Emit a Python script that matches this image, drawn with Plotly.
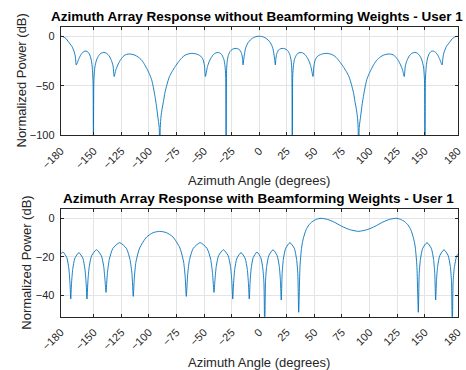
import plotly.graph_objects as go

# ---- Array response without beamforming weights (azimuth deg, normalized dB) ----
az_nobf = [
    -180, -178, -176.4, -175, -173.4, -171.5, -169.6, -168, -167, -166.5, -165.9, -165, -163.8, -162, -160, -158,
    -156, -154, -152.5, -151.5, -150.7, -150.3, -149.9, -149, -147.5, -145.5, -143.5, -141, -138.5, -136, -134,
    -132.5, -131.5, -130, -128.2, -126, -123.6, -121.5, -119, -116, -112.9, -109.8, -106.7, -104.5, -102.1, -99.8,
    -97.5, -96, -94.5, -93.2, -92, -90.7, -90.2, -89.7, -89, -88, -86.8, -85.5, -83.7, -81.5, -79, -76, -73, -70,
    -67, -64, -61, -58, -55, -53, -51.5, -50.5, -49.6, -48.8, -46.9, -45.5, -43.9, -41.5, -39.3, -37, -35, -33.5,
    -32, -31, -30.4, -30, -29.6, -29, -28, -26.5, -24.5, -22, -19.5, -17.5, -16, -15.2, -14.6, -14.2, -13.5, -12.5,
    -11.5, -10, -8, -6, -4, -2, 0,
    2, 4, 6, 8, 10, 11.5, 12.5, 13.5, 14.2, 14.6, 15.2, 16, 17.5, 19.5, 22, 24.5, 26.5, 28, 29, 29.6, 30, 30.4,
    31, 32, 33.5, 35, 37, 39.3, 41.5, 43.9, 45.5, 46.9, 48.8, 49.6, 50.5, 51.5, 53, 55, 58, 61, 64, 67, 70, 73,
    76, 79, 81.5, 83.7, 85.5, 86.8, 88, 89, 89.7, 90.2, 90.7, 92, 93.2, 94.5, 96, 97.5, 99.8, 102.1, 104.5, 106.7,
    109.8, 112.9, 116, 119, 121.5, 123.6, 126, 128.2, 130, 131.5, 132.5, 134, 136, 138.5, 141, 143.5, 145.5,
    147.5, 149, 149.9, 150.3, 150.7, 151.5, 152.5, 154, 156, 158, 160, 162, 163.8, 165, 165.9, 166.5, 167, 168,
    169.6, 171.5, 173.4, 175, 176.4, 178, 180,
]
pow_nobf = [
    0, -0.4, -1.4, -2.6, -5, -7.8, -10.7, -15, -19, -23, -29, -27, -23.5, -19.3, -16.3, -15,
    -15.3, -18, -23, -30, -45, -130, -45, -31, -24, -19.5, -17.2, -16.3, -17.2, -20, -24.5,
    -30, -40.7, -34, -29, -24.3, -20.7, -18.8, -18, -18.1, -19, -21, -24, -27.5, -32.3, -37.5,
    -44, -51.5, -60.7, -70, -80.7, -92, -130, -92, -80.7, -73, -65.7, -57, -49, -41, -35.7, -30.3, -25.7, -21.6,
    -19, -17.8, -17.3, -17.7, -18.8, -20.2, -22.3, -25, -30, -40.7, -30.7, -26, -22.3, -18.5, -16.8, -16.5, -17.3, -19.5,
    -23.5, -30, -40, -130, -35, -25, -19.5, -15.5, -13.3, -12.3, -12.6, -14, -17.5, -22, -29, -25, -19, -12.7,
    -9.6, -6.4, -3.7, -2.0, -0.85, -0.2, 0,
    -0.2, -0.85, -2.0, -3.7, -6.4, -9.6, -12.7, -19, -25, -29, -22, -17.5, -14, -12.6, -12.3, -13.3, -15.5, -19.5, -25, -35, -130, -40,
    -30, -23.5, -19.5, -17.3, -16.5, -16.8, -18.5, -22.3, -26, -30.7, -40.7, -30, -25, -22.3, -20.2, -18.8, -17.7, -17.3, -17.8, -19, -21.6, -25.7,
    -30.3, -35.7, -41, -49, -57, -65.7, -73, -80.7, -92, -130, -92, -80.7, -70, -60.7, -51.5, -44, -37.5, -32.3, -27.5, -24,
    -21, -19, -18.1, -18, -18.8, -20.7, -24.3, -29, -34, -40.7, -30, -24.5, -20, -17.2, -16.3, -17.2, -19.5,
    -24, -31, -45, -130, -45, -30, -23, -18, -15.3, -15, -16.3, -19.3, -23.5, -27, -29, -23, -19, -15,
    -10.7, -7.8, -5, -2.6, -1.4, -0.4, 0,
]

# ---- Array response with beamforming weights (azimuth deg, normalized dB) ----
az_bf = [
    -180, -177.9, -174.4, -172.6, -171.6, -170.9,
    -170.2, -169.1, -167.2, -163.55, -159.9, -158.0, -156.9, -156.2,
    -155.3, -154.1, -151.9, -147.55, -143.2, -141.0, -139.8, -138.9,
    -137.7, -135.9, -132.7, -126.55, -120.4, -117.2, -115.4, -114.2,
    -113.2, -111.8, -108.4, -102.2, -96.2, -90.15, -84.1, -78.1, -71.9, -68.5, -67.1, -66.1,
    -64.8, -63.1, -59.8, -53.55, -47.3, -44.0, -42.3, -41,
    -40.15, -38.96, -36.75, -32.5, -28.25, -26.04, -24.85, -24,
    -23.25, -22.2, -20.25, -16.5, -12.75, -10.8, -9.75, -9,
    -8.3, -7.3, -5.5, -2.0, 1.5, 3.3, 4.3, 5.0,
    5.75, 6.8, 8.75, 12.5, 16.25, 18.2, 19.25, 20,
    20.8, 21.9, 23.95, 27.9, 31.85, 33.9, 35.0, 35.8,
    37, 38.5, 40, 42.5, 45, 48, 52, 56, 62, 68, 75, 82, 90, 98, 105, 112, 118, 124, 128, 132, 135, 137.5,
    140, 141.5, 143, 144.3,
    145.1, 146.2, 148.2, 152.15, 156.1, 158.1, 159.2, 160,
    160.75, 161.8, 163.8, 167.55, 171.3, 173.3, 174.35, 175.1,
    175.8, 176.8, 178.6, 180,
]
pow_bf = [
    -18.6, -17.6, -20.6, -26.3, -33.7, -42.1,
    -34.0, -26.6, -20.9, -17.9, -20.9, -26.6, -34.0, -42.1,
    -32.5, -25.1, -19.4, -16.4, -19.4, -25.1, -32.5, -38.6,
    -28.8, -21.4, -15.7, -12.7, -15.7, -21.4, -28.8, -40.7,
    -30.8, -22.9, -15.5, -9.8, -7.5, -6.8, -7.5, -9.8, -15.5, -22.9, -30.8, -40.7,
    -28.8, -21.4, -15.7, -12.7, -15.7, -21.4, -28.8, -38.6,
    -32.5, -25.1, -19.4, -16.4, -19.4, -25.1, -32.5, -42.1,
    -34.0, -26.6, -20.9, -17.9, -20.9, -26.6, -34.0, -42.1,
    -33.7, -26.3, -20.6, -17.6, -20.6, -26.3, -33.7, -60,
    -32.5, -25.1, -19.4, -16.4, -19.4, -25.1, -32.5, -42.6,
    -28.8, -21.4, -15.7, -12.7, -15.7, -21.4, -28.8, -49,
    -25, -15, -10.5, -6, -3.5, -1.8, -0.5, 0, -0.6, -2.0, -4.2, -5.9, -6.8, -5.9, -4.2, -2.0, -0.6, 0, -0.5, -1.8, -3.5, -6,
    -10.5, -15, -25, -49,
    -28.8, -21.4, -15.7, -12.7, -15.7, -21.4, -28.8, -42.6,
    -32.5, -25.1, -19.4, -16.4, -19.4, -25.1, -32.5, -60,
    -33.7, -26.3, -20.6, -18.6,
]

az_ticks = [-180, -150, -125, -100, -75, -50, -25, 0, 25, 50, 75, 100, 125, 150, 180]
top_yticks = [0, -50, -100]
bot_yticks = [0, -20, -40]

titles = [
    "Azimuth Array Response without Beamforming Weights - User 1",
    "Azimuth Array Response with Beamforming Weights - User 1",
]
xlabel = "Azimuth Angle (degrees)"
ylabel = "Normalized Power (dB)"

W, H = 466, 370
FONT = "Liberation Sans, Arial, Helvetica, sans-serif"
INK = "#262626"
LINE = "#0072bd"

# axes boxes in pixels: (left, right) and (top, bottom)
x0, x1 = 60.7, 457.7
top_box = (26.7, 135.3)
bot_box = (208.7, 316.7)


def ydom(box):
    return [1 - box[1] / H, 1 - box[0] / H]


fig = go.Figure()
fig.add_trace(go.Scatter(x=az_nobf, y=pow_nobf, mode="lines",
                         line=dict(color=LINE, width=0.9, shape="spline", smoothing=0.6),
                         xaxis="x", yaxis="y", hoverinfo="skip"))
fig.add_trace(go.Scatter(x=az_bf, y=pow_bf, mode="lines",
                         line=dict(color=LINE, width=0.9, shape="spline", smoothing=0.6),
                         xaxis="x2", yaxis="y2", hoverinfo="skip"))

axis_common = dict(
    automargin=False,
    showline=True, linecolor=INK, linewidth=1, mirror="ticks",
    ticks="inside", ticklen=3, tickcolor=INK, tickwidth=1,
    showgrid=True, gridcolor="#e4e4e4", gridwidth=1, zeroline=False,
    tickfont=dict(family=FONT, size=11, color=INK),
)

xd = [x0 / W, x1 / W]
xax = dict(domain=xd, range=[-180, 180], tickvals=az_ticks, tickangle=-45, ticklabelstandoff=4, **axis_common)
fig.update_layout(
    width=W, height=H,
    margin=dict(l=0, r=0, t=0, b=0, autoexpand=False),
    paper_bgcolor="white", plot_bgcolor="white",
    showlegend=False,
    xaxis=dict(anchor="y", **xax),
    yaxis=dict(domain=ydom(top_box), range=[-100, 9.6], tickvals=top_yticks, anchor="x",
               ticklabelstandoff=3, **axis_common),
    xaxis2=dict(anchor="y2", **xax),
    yaxis2=dict(domain=ydom(bot_box), range=[-51.3, 5], tickvals=bot_yticks, anchor="x2",
                ticklabelstandoff=3, **axis_common),
)

ann = []
# subplot titles
for (cx, cy), t in zip([(256.5, 17.0), (258.7, 199.0)], titles):
    ann.append(dict(x=cx / W, y=1 - cy / H, xref="paper", yref="paper", text="<b>%s</b>" % t,
                    showarrow=False, xanchor="center", yanchor="middle",
                    font=dict(family=FONT, size=13.5, color="black")))
# x-axis labels
for cy in (180.6, 362.0):
    ann.append(dict(x=(x0 + x1) / 2 / W, y=1 - cy / H, xref="paper", yref="paper", text=xlabel,
                    showarrow=False, xanchor="center", yanchor="middle",
                    font=dict(family=FONT, size=13, color=INK)))
# y-axis labels
for cx, box in ((20.5, top_box), (27.0, bot_box)):
    ann.append(dict(x=cx / W, y=1 - (box[0] + box[1]) / 2 / H, xref="paper", yref="paper", text=ylabel,
                    showarrow=False, xanchor="center", yanchor="middle", textangle=-90,
                    font=dict(family=FONT, size=13, color=INK)))
fig.update_layout(annotations=ann)

fig.write_html("out.html")
